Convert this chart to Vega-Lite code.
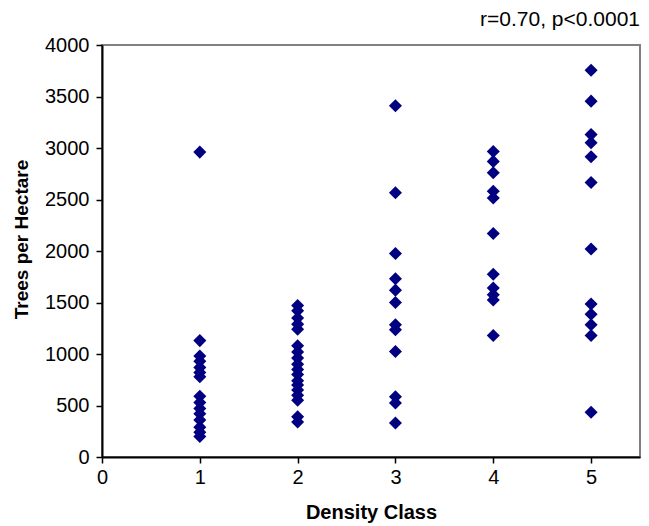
{
  "$schema": "https://vega.github.io/schema/vega-lite/v6.json",
  "width": 538,
  "height": 412,
  "autosize": {"type": "none"},
  "padding": {"left": 102, "top": 45, "right": 9, "bottom": 69},
  "background": "white",
  "title": {"text": "r=0.70, p<0.0001", "anchor": "end", "font": "Liberation Sans", "fontSize": 21, "fontWeight": "normal", "color": "black", "offset": 5},
  "config": {"view": {"stroke": "#808080", "strokeWidth": 2}},
  "data": {"values": [
    {"c":1,"t":2960},{"c":1,"t":1130},{"c":1,"t":980},{"c":1,"t":930},{"c":1,"t":870},{"c":1,"t":820},{"c":1,"t":780},
    {"c":1,"t":590},{"c":1,"t":530},{"c":1,"t":470},{"c":1,"t":420},{"c":1,"t":360},{"c":1,"t":290},{"c":1,"t":240},{"c":1,"t":200},
    {"c":2,"t":1470},{"c":2,"t":1420},{"c":2,"t":1350},{"c":2,"t":1290},{"c":2,"t":1240},{"c":2,"t":1080},{"c":2,"t":1020},{"c":2,"t":960},{"c":2,"t":900},{"c":2,"t":850},{"c":2,"t":800},{"c":2,"t":740},{"c":2,"t":700},{"c":2,"t":650},{"c":2,"t":600},{"c":2,"t":550},{"c":2,"t":390},{"c":2,"t":340},
    {"c":3,"t":3410},{"c":3,"t":2565},{"c":3,"t":1975},{"c":3,"t":1730},{"c":3,"t":1620},{"c":3,"t":1500},{"c":3,"t":1285},{"c":3,"t":1235},{"c":3,"t":1025},{"c":3,"t":585},{"c":3,"t":525},{"c":3,"t":330},
    {"c":4,"t":2965},{"c":4,"t":2870},{"c":4,"t":2760},{"c":4,"t":2580},{"c":4,"t":2515},{"c":4,"t":2170},{"c":4,"t":1775},{"c":4,"t":1640},{"c":4,"t":1575},{"c":4,"t":1525},{"c":4,"t":1180},
    {"c":5,"t":3755},{"c":5,"t":3455},{"c":5,"t":3130},{"c":5,"t":3050},{"c":5,"t":2915},{"c":5,"t":2665},{"c":5,"t":2020},{"c":5,"t":1485},{"c":5,"t":1385},{"c":5,"t":1285},{"c":5,"t":1180},{"c":5,"t":435}
  ]},
  "mark": {"type": "point", "shape": "diamond", "filled": true, "size": 170, "color": "#000080", "opacity": 1},
  "encoding": {
    "x": {"field": "c", "type": "quantitative", "scale": {"domain": [0, 5.5], "nice": false, "zero": true},
      "axis": {"title": "Density Class", "values": [0,1,2,3,4,5], "format": "d", "grid": false, "labelFlush": false, "labelOverlap": false, "domainColor": "black", "domainWidth": 2, "tickColor": "black", "tickWidth": 1.5, "tickSize": 6, "labelFont": "Liberation Sans", "labelFontSize": 20, "labelColor": "black", "labelPadding": 4, "titleFont": "Liberation Sans", "titleFontSize": 20, "titleFontWeight": "bold", "titleColor": "black", "titlePadding": 15}},
    "y": {"field": "t", "type": "quantitative", "scale": {"domain": [0, 4000], "nice": false},
      "axis": {"title": "Trees per Hectare", "titleY": 194, "values": [0,500,1000,1500,2000,2500,3000,3500,4000], "format": "d", "grid": false, "labelFlush": false, "labelOverlap": false, "domainColor": "black", "domainWidth": 2, "tickColor": "black", "tickWidth": 1.5, "tickSize": 6, "labelFont": "Liberation Sans", "labelFontSize": 20, "labelColor": "black", "labelPadding": 7, "titleFont": "Liberation Sans", "titleFontSize": 19, "titleFontWeight": "bold", "titleColor": "black", "titlePadding": 13}}
  }
}
